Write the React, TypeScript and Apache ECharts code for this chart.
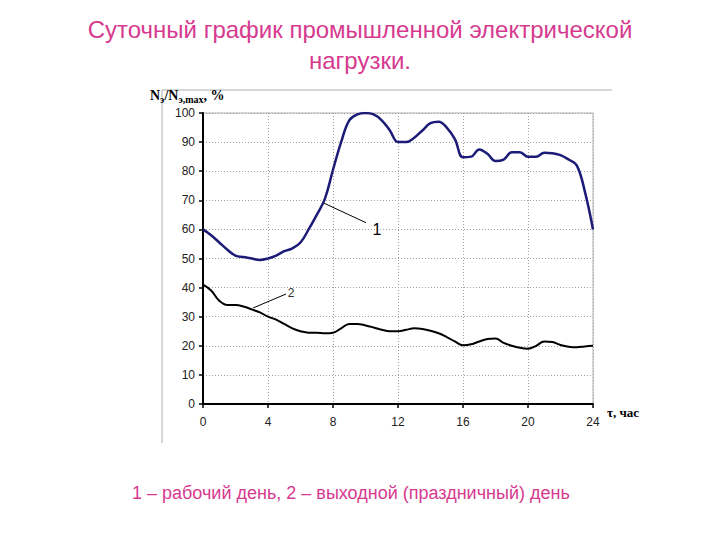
import React, { useEffect, useRef } from "react";
import * as echarts from "echarts";

const hours1 = [0, 0.5, 1, 1.5, 2, 2.5, 3, 3.5, 4, 4.5, 5, 5.5, 6, 6.5, 7, 7.5, 8, 8.5, 9, 9.5, 10, 10.5, 11, 11.5, 12, 12.5, 13, 13.5, 14, 14.5, 15, 15.5, 16, 16.5, 17, 17.5, 18, 18.5, 19, 19.5, 20, 20.5, 21, 21.5, 22, 22.5, 23, 23.5, 24];
const workday = [60, 58, 55.5, 53, 51, 50.5, 50, 49.5, 50, 51, 52.5, 53.5, 55.5, 60, 65, 70.5, 80.5, 90, 97.5, 99.5, 100, 99.5, 97.5, 94, 90, 90, 91.5, 94, 96.5, 97, 95, 91, 84.8, 85, 87.5, 86, 83.5, 84, 86.5, 86.5, 85, 85, 86.3, 86.2, 85.5, 84, 82, 73, 60];

const hours2 = [0, 0.5, 1, 1.5, 2, 2.5, 3, 3.5, 4, 4.5, 5, 5.5, 6, 6.5, 7, 7.5, 8, 8.5, 9, 9.5, 10, 10.5, 11, 11.5, 12, 12.5, 13, 13.5, 14, 14.5, 15, 15.5, 16, 16.5, 17, 17.5, 18, 18.5, 19, 19.5, 20, 20.5, 21, 21.5, 22, 22.5, 23, 23.5, 24];
const holiday = [41, 39, 35.5, 34, 34, 33.5, 32.5, 31.5, 30, 29, 27.5, 26, 25, 24.5, 24.5, 24.3, 24.5, 26, 27.5, 27.5, 27, 26.3, 25.5, 25, 25, 25.5, 26, 25.8, 25.2, 24.3, 23, 21.5, 20.2, 20.5, 21.5, 22.3, 22.5, 21, 20, 19.3, 19, 20, 21.5, 21.3, 20.3, 19.7, 19.5, 19.8, 20];

const titleText = "Суточный график промышленной электрической\nнагрузки.";
const captionText = "1 – рабочий день, 2 – выходной (праздничный) день";

const pink = "#d63a8f";

export default function App() {
  const ref = useRef<HTMLDivElement>(null);
  useEffect(() => {
    if (!ref.current) return;
    const chart = echarts.init(ref.current, null, { renderer: "svg" });
    const s1 = hours1.map((h, i) => [h, workday[i]]);
    const s2 = hours2.map((h, i) => [h, holiday[i]]);
    chart.setOption({
      animation: false,
      backgroundColor: "#ffffff",
      title: {
        text: titleText,
        left: "center",
        top: 9,
        textStyle: {
          color: pink,
          fontFamily: "Liberation Sans, Arial, sans-serif",
          fontWeight: "normal",
          fontSize: 24,
          lineHeight: 31,
        },
      },
      grid: {
        left: 203,
        right: 127,
        top: 113,
        bottom: 136,
        show: true,
        borderColor: "#b0b0b0",
        borderWidth: 1,
      },
      xAxis: {
        type: "value",
        min: 0,
        max: 24,
        interval: 4,
        axisLine: { show: true, onZero: false, lineStyle: { color: "#000", width: 2 } },
        axisTick: { show: true, length: 4, lineStyle: { color: "#000", width: 1.5 } },
        axisLabel: { color: "#222", fontSize: 12, margin: 12, fontFamily: "Liberation Sans, Arial, sans-serif" },
        splitLine: { show: true, lineStyle: { color: "#a0a0a0", type: [1, 2], width: 1 } },
      },
      yAxis: {
        type: "value",
        min: 0,
        max: 100,
        interval: 10,
        axisLine: { show: true, onZero: false, lineStyle: { color: "#000", width: 2 } },
        axisTick: { show: true, length: 4, lineStyle: { color: "#000", width: 1.5 } },
        axisLabel: { color: "#222", fontSize: 12, margin: 8, fontFamily: "Liberation Sans, Arial, sans-serif" },
        splitLine: { show: true, lineStyle: { color: "#a0a0a0", type: [1, 2], width: 1 } },
      },
      series: [
        {
          type: "line",
          data: s1,
          smooth: 0.4,
          showSymbol: false,
          lineStyle: { color: "#1c1c78", width: 2.5 },
          z: 3,
          markLine: {
            silent: true,
            symbol: "none",
            label: { show: false },
            lineStyle: { color: "#000", width: 1, type: "solid" },
            data: [[{ coord: [7.45, 69] }, { coord: [10.03, 62.3] }]],
          },
          markPoint: {
            silent: true,
            symbol: "circle",
            symbolSize: 1,
            itemStyle: { color: "rgba(0,0,0,0)" },
            label: { show: true, position: "inside", formatter: "1", color: "#000", fontSize: 16, fontFamily: "Liberation Sans, Arial, sans-serif" },
            data: [{ coord: [10.71, 59.8] }],
          },
        },
        {
          type: "line",
          data: s2,
          smooth: 0.4,
          showSymbol: false,
          lineStyle: { color: "#000", width: 2 },
          z: 3,
          markLine: {
            silent: true,
            symbol: "none",
            label: { show: false },
            lineStyle: { color: "#000", width: 1, type: "solid" },
            data: [[{ coord: [3.08, 33] }, { coord: [5.11, 37.8] }]],
          },
          markPoint: {
            silent: true,
            symbol: "circle",
            symbolSize: 1,
            itemStyle: { color: "rgba(0,0,0,0)" },
            label: { show: true, position: "inside", formatter: "2", color: "#333", fontSize: 12, fontFamily: "Liberation Sans, Arial, sans-serif" },
            data: [{ coord: [5.42, 38.1] }],
          },
        },
      ],
      graphic: [
        { type: "line", shape: { x1: 162, y1: 90, x2: 612, y2: 90 }, style: { stroke: "#b0b0b0", lineWidth: 1 } },
        { type: "line", shape: { x1: 162, y1: 90, x2: 162, y2: 443 }, style: { stroke: "#b0b0b0", lineWidth: 1 } },
        {
          type: "text",
          left: 150,
          top: 88,
          style: {
            text: "{m|N}{s|э}{m|/N}{s|э,max}{m|, %}",
            rich: {
              m: { fontFamily: "Liberation Serif, Times New Roman, serif", fontWeight: "bold", fontSize: 14, fill: "#000" },
              s: { fontFamily: "Liberation Serif, Times New Roman, serif", fontWeight: "bold", fontSize: 10, fill: "#000", padding: [8, 0, 0, 0] },
            },
          },
        },
        {
          type: "text",
          left: 607,
          top: 406,
          style: {
            text: "τ, час",
            fontFamily: "Liberation Serif, Times New Roman, serif",
            fontWeight: "bold",
            fontSize: 13,
            fill: "#000",
          },
        },
        {
          type: "text",
          left: 132,
          top: 484,
          style: {
            text: captionText,
            fontFamily: "Liberation Sans, Arial, sans-serif",
            fontSize: 18,
            fill: pink,
          },
        },
      ],
    });
    return () => chart.dispose();
  }, []);
  return <div ref={ref} style={{ width: 720, height: 540, position: "fixed", left: 0, top: 0 }} />;
}
